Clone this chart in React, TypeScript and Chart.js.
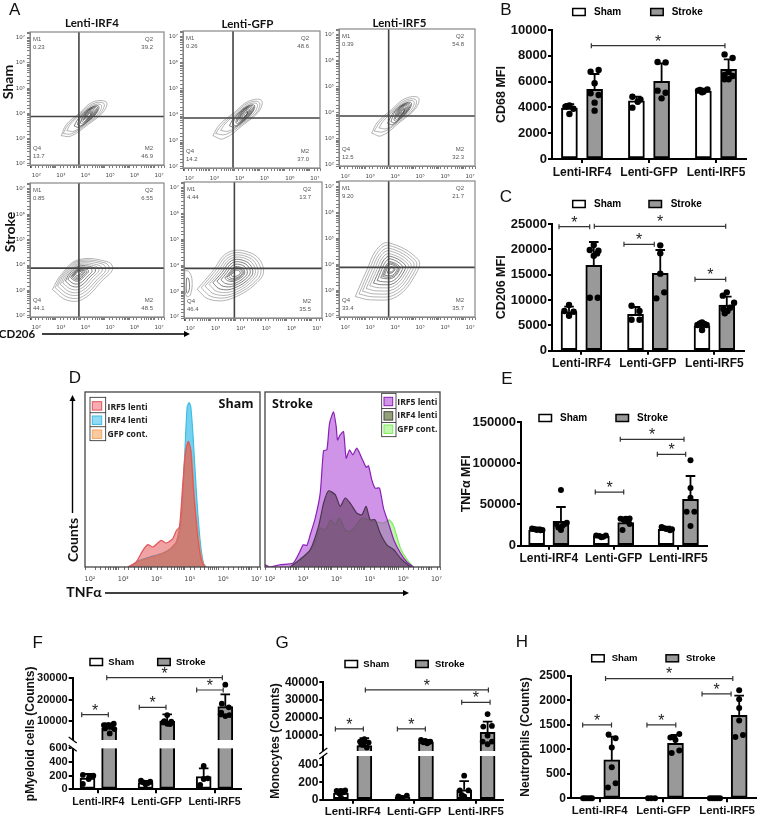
import React, { useEffect, useRef } from "react";
import { Chart, LinearScale, registerables } from "chart.js";

class BrokenScale extends LinearScale {
  static id = "broken";
  static defaults = LinearScale.defaults;
  getPixelForValue(v: number) {
    const o: any = this.options;
    let f;
    if (v <= o.lowMax) f = (v / o.lowMax) * o.fracLow;
    else if (v >= o.highMin) f = o.fracHigh + ((v - o.highMin) / (this.max - o.highMin)) * (1 - o.fracHigh);
    else f = o.fracLow + ((v - o.lowMax) / (o.highMin - o.lowMax)) * (o.fracHigh - o.fracLow);
    return this.getPixelForDecimal(f);
  }
}
Chart.register(...registerables, BrokenScale as any);

const SANS = "'Liberation Sans', Arial, sans-serif";
const CATS = ["Lenti-IRF4", "Lenti-GFP", "Lenti-IRF5"];
const SERIES = ["Sham", "Stroke"];

// ---------- Panel B ----------
const B_SHAM = [3950, 4500, 5270];
const B_STROKE = [5400, 6020, 6950];
const B_SHAM_ERR = [4250, 4830, 5450];
const B_STROKE_ERR = [6590, 7420, 7720];
const B_PTS = [
  [[-0.06, 4060], [-0.03, 4100], [0, 4150], [0.06, 3900], [0, 3490]],
  [[-0.06, 6770], [0.06, 6900], [0, 5870], [-0.06, 5090], [0.06, 4960], [0, 4370], [0, 3750]],
  [[-0.06, 4830], [0.06, 4625], [0.02, 4440], [-0.06, 3980]],
  [[-0.06, 7520], [0.06, 7490], [-0.06, 5300], [0.06, 5140], [0, 4700]],
  [[-0.08, 5300], [-0.05, 5350], [0, 5220], [0.06, 5400], [-0.02, 5180]],
  [[-0.06, 8110], [0.06, 7830], [0, 6740], [-0.06, 6510], [-0.06, 6180], [0, 6180], [0.06, 6430]],
];
const B_BRACKETS = [[1.139, 3.134, 8785]];

// ---------- Panel C ----------
const C_SHAM = [7700, 7170, 4870];
const C_STROKE = [16840, 15260, 9010];
const C_SHAM_ERR = [8700, 8620, 5590];
const C_STROKE_ERR = [21450, 19870, 10660];
const C_PTS = [
  [[0, 9010], [-0.07, 7830], [0.07, 7700], [0, 6900]],
  [[0, 20860], [-0.06, 19870], [0.07, 19740], [0, 18750], [0.05, 19200], [-0.06, 10460], [0.06, 10460]],
  [[-0.06, 8880], [0.06, 7830], [-0.06, 6120], [0.06, 6120]],
  [[0, 20790], [0, 19210], [0, 15200], [0.06, 11510], [-0.06, 10330]],
  [[0, 5590], [-0.07, 5070], [0.07, 5070], [0, 4080], [-0.03, 5400], [0.03, 5300]],
  [[0, 11510], [-0.06, 10860], [0.11, 9470], [0.05, 8490], [-0.05, 8220], [0.01, 7830], [-0.03, 7370]],
];
const C_BRACKETS = [[0.663, 1.125, 24470], [1.194, 3.17, 24540], [1.64, 2.096, 20990], [2.708, 3.17, 14080]];

// ---------- Panel E ----------
const E_SHAM = [19000, 11700, 19800];
const E_STROKE = [29500, 27900, 56200];
const E_SHAM_ERR = [22200, 13000, 23000];
const E_STROKE_ERR = [46900, 34400, 84500];
const E_PTS = [
  [[-0.07, 21000], [-0.04, 20200], [0, 19000], [0.06, 18600], [0.09, 19000]],
  [[0, 67500], [-0.07, 26300], [0.06, 26300], [0, 19000], [-0.04, 22200], [0.09, 27900], [0.02, 23800]],
  [[-0.08, 12500], [-0.03, 11700], [0, 10100], [0.03, 11000], [0.07, 12500]],
  [[-0.08, 32700], [0, 32700], [0.06, 33100], [-0.03, 31100], [0.04, 29100], [-0.05, 19000], [0.06, 26300]],
  [[-0.07, 22600], [-0.04, 21400], [0, 20200], [0.06, 18600], [0.09, 19800]],
  [[0, 103500], [0, 69900], [0, 58200], [-0.06, 41200], [0.06, 41200], [0, 23800]],
];
const E_BRACKETS = [[2.104, 3.088, 128940], [2.676, 3.114, 110750], [1.718, 2.157, 65070]];

// ---------- Panel F ----------
const F_SHAM = [165, 93, 185];
const F_STROKE = [6700, 9840, 16610];
const F_SHAM_ERR = [224, 122, 307];
const F_STROKE_ERR = [8700, 12990, 22440];
const F_PTS = [
  [[-0.08, 78], [-0.08, 210], [0.02, 151], [0.1, 200], [0.04, 180]],
  [[-0.09, 7950], [-0.01, 7950], [0.08, 8580], [-0.07, 6380], [0.01, 4020], [0.09, 6060], [0.03, 7170]],
  [[-0.08, 127], [0, 73], [0.08, 112], [-0.04, 102], [0.04, 92]],
  [[0, 12680], [-0.07, 9210], [0.07, 9530], [0, 8580], [-0.05, 9840], [0.05, 8400]],
  [[0, 341], [0.07, 161], [0, 151], [-0.06, 63]],
  [[0, 27000], [-0.06, 18030], [0.06, 16300], [-0.07, 13780], [0.07, 12680], [0, 12200], [-0.08, 12990]],
];
const F_BRACKETS = [[1.145, 3.135, 30300], [2.693, 3.15, 24490], [1.705, 2.165, 16300], [0.714, 1.172, 12830]];

// ---------- Panel G ----------
const G_SHAM = [75, 27, 114];
const G_STROKE = [4150, 6040, 11700];
const G_SHAM_ERR = [114, 42, 212];
const G_STROKE_ERR = [8300, 7300, 17700];
const G_PTS = [
  [[-0.07, 102], [0, 102], [0.07, 106], [0, 24], [-0.03, 75], [0.04, 85]],
  [[0, 7740], [-0.07, 6420], [0.07, 5850], [-0.02, 4530], [0.04, 3020], [-0.05, 4910], [0.01, 6420]],
  [[-0.07, 39], [0, 20], [0.07, 47], [-0.04, 27]],
  [[-0.08, 7360], [-0.01, 6790], [0.07, 6420], [-0.04, 6040], [0.02, 5470], [0.04, 6040], [-0.07, 6790]],
  [[0, 275], [-0.07, 106], [0.07, 106], [0, 39], [-0.04, 55]],
  [[0, 22000], [-0.07, 14900], [0.07, 15300], [0, 9800], [0.07, 6420], [-0.08, 6420], [0, 4900]],
];
const G_BRACKETS = [[1.206, 3.203, 35660], [2.77, 3.23, 28680], [1.726, 2.18, 13580], [0.72, 1.174, 13580]];

// ---------- Panel H ----------
const H_SHAM = [0, 0, 0];
const H_STROKE = [782, 1122, 1694];
const H_SHAM_ERR = [0, 0, 0];
const H_STROKE_ERR = [1258, 1293, 2095];
const H_PTS = [
  [[-0.07, 0], [-0.04, 0], [0, 0], [0.04, 0], [0.07, 0]],
  [[-0.05, 1300], [0.06, 1224], [0, 1034], [0, 633], [0.06, 306], [-0.06, 218]],
  [[-0.05, 0], [0, 0], [0.06, 0]],
  [[0.06, 1313], [-0.08, 1238], [-0.02, 1238], [0, 1190], [0.06, 973], [-0.06, 925]],
  [[-0.08, 0], [-0.04, 0], [0, 0], [0.04, 0], [0.08, 0]],
  [[0, 2204], [0, 2020], [0, 1843], [0, 1585], [0.06, 1293], [-0.06, 1252]],
];
const H_BRACKETS = [[1.092, 3.09, 2442], [2.607, 3.063, 2129], [1.742, 2.195, 1497], [0.733, 1.186, 1497]];

const BAR_PANELS: any[] = [
  { box: [494, 0, 263, 178], plot: [552, 30, 746, 159], xr: [0.552, 3.448], off: 0.188, thick: 16, yMax: 10000,
    yTicks: [0, 2000, 4000, 6000, 8000, 10000], yTitle: "CD68 MFI", tick: 13, xf: 12, tf: 12.5, lf: 10, xpad: 2,
    sham: B_SHAM, stroke: B_STROKE, shamErr: B_SHAM_ERR, strokeErr: B_STROKE_ERR, pts: B_PTS, br: B_BRACKETS,
    leg: { y: 12, box: [572.7, 650.7], text: [594, 671.7] }, r: 3.2 },
  { box: [494, 188, 263, 180], plot: [552, 224, 744, 350.7], xr: [0.558, 3.445], off: 0.186, thick: 16, yMax: 25000,
    yTicks: [0, 5000, 10000, 15000, 20000, 25000], yTitle: "CD206 MFI", tick: 13, xf: 12, tf: 12.5, lf: 10, xpad: 2,
    sham: C_SHAM, stroke: C_STROKE, shamErr: C_SHAM_ERR, strokeErr: C_STROKE_ERR, pts: C_PTS, br: C_BRACKETS,
    leg: { y: 204, box: [572.7, 649], text: [594, 670.7] }, r: 3.2 },
  { box: [459, 405, 298, 160], plot: [521, 422, 707, 545.7], xr: [0.571, 3.443], off: 0.188, thick: 16, yMax: 150000,
    yTicks: [0, 50000, 100000, 150000], yTitle: "TNF\u03b1 MFI", tick: 13, xf: 12, tf: 12.5, lf: 10, xpad: 2,
    sham: E_SHAM, stroke: E_STROKE, shamErr: E_SHAM_ERR, strokeErr: E_STROKE_ERR, pts: E_PTS, br: E_BRACKETS,
    leg: { y: 418, box: [539, 616], text: [560, 637] }, r: 3 },
  { box: [23, 650, 240, 160], plot: [72.7, 678.3, 240.7, 789.3], xr: [0.559, 3.451], off: 0.186, thick: 15, yMax: 30000,
    yTicks: [0, 200, 400, 600, 10000, 20000, 30000], yTitle: "pMyeloid cells (Counts)", tick: 11, xf: 10.7, tf: 12, lf: 9.5, xpad: 2,
    sham: F_SHAM, stroke: F_STROKE, shamErr: F_SHAM_ERR, strokeErr: F_STROKE_ERR, pts: F_PTS, br: F_BRACKETS,
    leg: { y: 662, box: [90, 157.7], text: [108.3, 176] }, r: 2.9,
    brk: { lowMax: 600, highMin: 900, fracLow: 0.369, fracHigh: 0.444 }, slash: 1 },
  { box: [268, 650, 240, 165], plot: [323.3, 682.3, 503, 799.7], xr: [0.524, 3.44], off: 0.19, thick: 15, yMax: 40000,
    yTicks: [0, 200, 400, 10000, 20000, 30000, 40000], yTitle: "Monocytes (Counts)", tick: 12, xf: 11.4, tf: 12, lf: 9.5, xpad: 1,
    sham: G_SHAM, stroke: G_STROKE, shamErr: G_SHAM_ERR, strokeErr: G_STROKE_ERR, pts: G_PTS, br: G_BRACKETS,
    leg: { y: 664, box: [345, 415.7], text: [363.3, 435] }, r: 2.9,
    brk: { lowMax: 500, highMin: 1100, fracLow: 0.372, fracHigh: 0.415 }, slash: -1 },
  { box: [518, 640, 239, 175], plot: [571, 675.7, 756.5, 798.3], xr: [0.55, 3.456], off: 0.19, thick: 16, yMax: 2500,
    yTicks: [0, 500, 1000, 1500, 2000, 2500], yTitle: "Neutrophils (Counts)", tick: 12, xf: 11.4, tf: 12, lf: 9.5, xpad: 2,
    sham: H_SHAM, stroke: H_STROKE, shamErr: H_SHAM_ERR, strokeErr: H_STROKE_ERR, pts: H_PTS, br: H_BRACKETS,
    leg: { y: 658.3, box: [591.7, 666], text: [611.7, 686] }, r: 3 },
];

function barConfig(p: any) {
  const [bx, by, bw, bh] = p.box;
  const [l, t, r, b] = p.plot;
  const font = (size: number) => ({ family: SANS, size, weight: "bold" as const });
  const points: any[] = [];
  p.pts.forEach((arr: number[][], i: number) => {
    const g = Math.floor(i / 2) + 1;
    const c = i % 2 === 0 ? g - p.off : g + p.off;
    arr.forEach(([dx, v]) => points.push({ x: c + dx, y: v }));
  });
  const overlay = {
    id: "overlay",
    afterDatasetsDraw(chart: any) {
      const { ctx, scales, chartArea } = chart;
      const X = scales.x, Y = scales.y;
      ctx.save();
      // error whiskers
      ctx.strokeStyle = "#000";
      ctx.lineWidth = 1.8;
      [[p.sham, p.shamErr, -p.off], [p.stroke, p.strokeErr, p.off]].forEach(([m, e, o]: any) => {
        m.forEach((v: number, i: number) => {
          if (e[i] <= v) return;
          const x = X.getPixelForValue(i + 1 + o);
          const y0 = Y.getPixelForValue(v), y1 = Y.getPixelForValue(e[i]);
          ctx.beginPath();
          ctx.moveTo(x, y0); ctx.lineTo(x, y1);
          ctx.moveTo(x - 4.8, y1); ctx.lineTo(x + 4.8, y1);
          ctx.stroke();
        });
      });
      // axis break
      if (p.brk) {
        const y0 = Y.getPixelForValue(p.brk.lowMax), y1 = Y.getPixelForValue(p.brk.highMin);
        ctx.fillStyle = "#fff";
        ctx.fillRect(chartArea.left - 2, y1, chartArea.right - chartArea.left + 2, y0 - y1);
        ctx.strokeStyle = "#000";
        ctx.lineWidth = 1.3;
        [y0, y1].forEach((y: number) => {
          ctx.beginPath();
          ctx.moveTo(chartArea.left - 4, y - 3 * p.slash);
          ctx.lineTo(chartArea.left + 4, y + 3 * p.slash);
          ctx.stroke();
        });
      }
      // significance brackets
      p.br.forEach(([a, c, v]: number[]) => {
        const xa = X.getPixelForValue(a), xc = X.getPixelForValue(c), y = Y.getPixelForValue(v);
        ctx.strokeStyle = "#333";
        ctx.lineWidth = 1.2;
        ctx.beginPath();
        ctx.moveTo(xa, y); ctx.lineTo(xc, y);
        ctx.moveTo(xa, y - 2.5); ctx.lineTo(xa, y + 2.5);
        ctx.moveTo(xc, y - 2.5); ctx.lineTo(xc, y + 2.5);
        ctx.stroke();
        ctx.fillStyle = "#222";
        ctx.font = `16px ${SANS}`;
        ctx.textAlign = "center";
        ctx.textBaseline = "middle";
        ctx.fillText("*", (xa + xc) / 2, y - 3.5);
      });
      // legend
      SERIES.forEach((name, i) => {
        const x = p.leg.box[i] - bx, y = p.leg.y - by;
        ctx.fillStyle = i === 0 ? "#fff" : "#999";
        ctx.strokeStyle = "#000";
        ctx.lineWidth = 1.5;
        ctx.fillRect(x, y - 3.5, 12.5, 7);
        ctx.strokeRect(x, y - 3.5, 12.5, 7);
        ctx.fillStyle = "#000";
        ctx.font = `bold ${p.lf}px ${SANS}`;
        ctx.textAlign = "left";
        ctx.textBaseline = "middle";
        ctx.fillText(name, p.leg.text[i] - bx, y);
      });
      ctx.restore();
    },
  };
  return {
    type: "bar",
    plugins: [overlay],
    data: {
      datasets: [
        { type: "scatter", label: "points", data: points, backgroundColor: "#000", borderColor: "#000", pointRadius: p.r, pointBorderWidth: 0, showLine: false, clip: false, order: 1 },
        { type: "bar", label: SERIES[0], data: p.sham.map((v: number, i: number) => ({ x: i + 1 - p.off, y: v })), backgroundColor: "#fff", borderColor: "#000", borderWidth: 2, borderSkipped: false, barThickness: p.thick, grouped: false, order: 2 },
        { type: "bar", label: SERIES[1], data: p.stroke.map((v: number, i: number) => ({ x: i + 1 + p.off, y: v })), backgroundColor: "#999", borderColor: "#000", borderWidth: 2, borderSkipped: false, barThickness: p.thick, grouped: false, order: 2 },
      ],
    },
    options: {
      responsive: false, animation: false, devicePixelRatio: 1, events: [],
      layout: { autoPadding: false, padding: { left: 0, bottom: 0, top: t - by, right: bx + bw - r } },
      plugins: { legend: { display: false }, title: { display: false }, tooltip: { enabled: false } },
      scales: {
        x: {
          type: "linear", min: p.xr[0], max: p.xr[1], offset: false,
          afterBuildTicks: (s: any) => { s.ticks = [1, 2, 3].map((value) => ({ value })); },
          afterFit: (s: any) => { s.height = by + bh - b; },
          ticks: { autoSkip: false, maxRotation: 0, minRotation: 0, padding: p.xpad, color: "#111", font: font(p.xf), callback: (v: number) => CATS[v - 1] },
          grid: { offset: false, drawOnChartArea: false, drawTicks: true, tickLength: 4, color: "#000", lineWidth: 2 },
          border: { display: true, color: "#000", width: 2 },
        },
        y: {
          type: p.brk ? "broken" : "linear", min: 0, max: p.yMax, ...(p.brk || {}),
          afterBuildTicks: (s: any) => { s.ticks = p.yTicks.map((value: number) => ({ value })); },
          afterFit: (s: any) => { s.width = l - bx; },
          ticks: { autoSkip: false, padding: 1, color: "#111", font: font(p.tick), callback: (v: number) => String(v) },
          grid: { drawOnChartArea: false, drawTicks: true, tickLength: 4, color: "#000", lineWidth: 2 },
          border: { display: true, color: "#000", width: 2 },
          title: { display: true, text: p.yTitle, color: "#111", font: font(p.tf), padding: { top: 0, bottom: 0 } },
        },
      },
    },
  };
}

// ---------- Panel A: contour levels, as [log10 CD206, log10 y] ----------
const A1_RINGS = [
  [[3.22, 3.12], [3.43, 3.56], [3.97, 4.02], [4.5, 4.45], [5.05, 4.45], [4.95, 4.08], [4.3, 3.55], [3.6, 3.1]],
  [[3.3, 3.2], [3.5, 3.55], [3.98, 3.98], [4.5, 4.38], [4.95, 4.4], [4.85, 4.05], [4.3, 3.6], [3.65, 3.2]],
  [[3.45, 3.32], [3.6, 3.58], [4.0, 3.95], [4.5, 4.32], [4.85, 4.33], [4.75, 4.02], [4.3, 3.65], [3.75, 3.3]],
  [[3.75, 3.5], [3.85, 3.7], [4.08, 3.98], [4.5, 4.27], [4.75, 4.28], [4.65, 4.0], [4.3, 3.68], [3.95, 3.45]],
  [[3.88, 3.56], [3.95, 3.75], [4.13, 3.99], [4.49, 4.25], [4.7, 4.24], [4.62, 3.99], [4.31, 3.7], [4.02, 3.51]],
  [[4.0, 3.62], [4.05, 3.8], [4.18, 4.0], [4.48, 4.22], [4.65, 4.2], [4.58, 3.98], [4.32, 3.72], [4.1, 3.58]],
  [[4.05, 3.7], [4.1, 3.85], [4.22, 4.02], [4.46, 4.2], [4.6, 4.16], [4.54, 3.96], [4.32, 3.75], [4.13, 3.64]],
  [[4.12, 3.72], [4.15, 3.85], [4.25, 4.02], [4.45, 4.18], [4.55, 4.12], [4.5, 3.95], [4.32, 3.78], [4.18, 3.68]],
  [[4.16, 3.77], [4.18, 3.88], [4.28, 4.02], [4.44, 4.14], [4.5, 4.08], [4.46, 3.93], [4.32, 3.8], [4.21, 3.73]],
  [[4.2, 3.8], [4.22, 3.9], [4.3, 4.0], [4.42, 4.1], [4.47, 4.05], [4.42, 3.92], [4.33, 3.82], [4.25, 3.78]],
  [[4.24, 3.84], [4.26, 3.92], [4.33, 3.99], [4.41, 4.06], [4.44, 4.01], [4.4, 3.91], [4.33, 3.84], [4.28, 3.81]],
  [[4.27, 3.86], [4.3, 3.93], [4.35, 3.98], [4.4, 4.02], [4.42, 3.98], [4.38, 3.9], [4.33, 3.86], [4.3, 3.84]],
];
const A2_RINGS = [
  [[3.14, 3.2], [3.4, 3.62], [4.0, 4.1], [4.55, 4.52], [5.07, 4.56], [4.98, 4.15], [4.35, 3.62], [3.55, 3.08]],
  [[3.25, 3.28], [3.5, 3.62], [4.02, 4.06], [4.55, 4.46], [4.98, 4.48], [4.9, 4.12], [4.35, 3.67], [3.65, 3.25]],
  [[3.45, 3.4], [3.62, 3.65], [4.05, 4.02], [4.55, 4.4], [4.9, 4.42], [4.8, 4.1], [4.35, 3.72], [3.78, 3.38]],
  [[3.8, 3.58], [3.9, 3.78], [4.13, 4.05], [4.55, 4.35], [4.8, 4.36], [4.7, 4.08], [4.36, 3.75], [4.0, 3.53]],
  [[3.93, 3.64], [4.0, 3.83], [4.18, 4.07], [4.54, 4.33], [4.75, 4.32], [4.67, 4.07], [4.36, 3.78], [4.07, 3.59]],
  [[4.05, 3.7], [4.1, 3.88], [4.23, 4.08], [4.53, 4.3], [4.7, 4.28], [4.63, 4.06], [4.37, 3.8], [4.15, 3.66]],
  [[4.11, 3.75], [4.15, 3.91], [4.27, 4.09], [4.52, 4.28], [4.65, 4.24], [4.59, 4.05], [4.37, 3.83], [4.19, 3.71]],
  [[4.17, 3.8], [4.2, 3.93], [4.3, 4.1], [4.5, 4.26], [4.6, 4.2], [4.55, 4.03], [4.37, 3.86], [4.23, 3.76]],
  [[4.21, 3.84], [4.24, 3.96], [4.33, 4.09], [4.49, 4.22], [4.56, 4.17], [4.51, 4.02], [4.38, 3.88], [4.27, 3.81]],
  [[4.25, 3.88], [4.27, 3.98], [4.35, 4.08], [4.47, 4.18], [4.52, 4.13], [4.47, 4.0], [4.38, 3.9], [4.3, 3.86]],
  [[4.31, 3.93], [4.33, 4.0], [4.4, 4.08], [4.48, 4.14], [4.52, 4.1], [4.47, 4.0], [4.4, 3.93], [4.35, 3.91]],
  [[4.37, 3.98], [4.4, 4.03], [4.45, 4.08], [4.5, 4.1], [4.52, 4.06], [4.48, 4.0], [4.43, 3.96], [4.4, 3.95]],
];
const A3_RINGS = [
  [[3.26, 3.22], [3.5, 3.65], [4.05, 4.12], [4.6, 4.55], [5.13, 4.58], [5.03, 4.18], [4.4, 3.65], [3.65, 3.12]],
  [[3.36, 3.3], [3.6, 3.66], [4.07, 4.08], [4.6, 4.48], [5.03, 4.5], [4.95, 4.15], [4.4, 3.7], [3.75, 3.28]],
  [[3.55, 3.42], [3.72, 3.68], [4.1, 4.05], [4.6, 4.42], [4.95, 4.44], [4.85, 4.12], [4.4, 3.75], [3.88, 3.4]],
  [[3.9, 3.6], [4.0, 3.8], [4.18, 4.08], [4.6, 4.37], [4.85, 4.38], [4.75, 4.1], [4.41, 3.78], [4.1, 3.55]],
  [[4.03, 3.66], [4.1, 3.85], [4.23, 4.09], [4.59, 4.35], [4.8, 4.34], [4.71, 4.09], [4.42, 3.8], [4.18, 3.62]],
  [[4.15, 3.72], [4.2, 3.9], [4.28, 4.1], [4.58, 4.32], [4.75, 4.3], [4.68, 4.08], [4.42, 3.82], [4.25, 3.68]],
  [[4.21, 3.77], [4.25, 3.92], [4.32, 4.11], [4.56, 4.3], [4.7, 4.26], [4.64, 4.06], [4.42, 3.85], [4.29, 3.73]],
  [[4.27, 3.82], [4.3, 3.95], [4.36, 4.12], [4.55, 4.28], [4.65, 4.22], [4.6, 4.05], [4.42, 3.88], [4.33, 3.78]],
  [[4.31, 3.86], [4.34, 3.98], [4.39, 4.11], [4.54, 4.24], [4.61, 4.19], [4.56, 4.04], [4.43, 3.9], [4.36, 3.83]],
  [[4.35, 3.9], [4.37, 4.0], [4.42, 4.1], [4.52, 4.2], [4.57, 4.15], [4.52, 4.02], [4.43, 3.92], [4.38, 3.88]],
  [[4.39, 3.94], [4.42, 4.02], [4.46, 4.1], [4.53, 4.16], [4.57, 4.12], [4.53, 4.02], [4.46, 3.95], [4.42, 3.92]],
  [[4.43, 3.98], [4.46, 4.04], [4.5, 4.1], [4.55, 4.12], [4.57, 4.08], [4.53, 4.02], [4.48, 3.97], [4.45, 3.96]],
];
const A4_RINGS = [
  [[2.86, 3.04], [3.45, 2.62], [4.12, 2.67], [4.93, 3.43], [5.31, 3.83], [5.13, 4.12], [3.9, 4.2], [3.2, 3.6]],
  [[2.97, 3.11], [3.5, 2.73], [4.1, 2.77], [4.83, 3.46], [5.17, 3.82], [5.01, 4.08], [3.9, 4.15], [3.27, 3.61]],
  [[3.07, 3.17], [3.54, 2.84], [4.08, 2.88], [4.73, 3.48], [5.03, 3.8], [4.89, 4.04], [3.9, 4.1], [3.34, 3.62]],
  [[3.18, 3.24], [3.59, 2.94], [4.06, 2.98], [4.62, 3.51], [4.89, 3.79], [4.76, 3.99], [3.9, 4.05], [3.41, 3.63]],
  [[3.28, 3.3], [3.63, 3.05], [4.04, 3.08], [4.52, 3.54], [4.75, 3.78], [4.64, 3.95], [3.9, 4.0], [3.48, 3.64]],
  [[3.39, 3.37], [3.68, 3.16], [4.02, 3.19], [4.42, 3.57], [4.61, 3.76], [4.52, 3.91], [3.9, 3.95], [3.55, 3.65]],
  [[3.49, 3.44], [3.73, 3.27], [3.99, 3.29], [4.32, 3.59], [4.47, 3.75], [4.4, 3.87], [3.91, 3.9], [3.63, 3.66]],
  [[3.6, 3.5], [3.77, 3.38], [3.97, 3.39], [4.22, 3.62], [4.33, 3.74], [4.28, 3.83], [3.91, 3.85], [3.7, 3.67]],
  [[3.65, 3.53], [3.8, 3.43], [3.96, 3.44], [4.16, 3.63], [4.26, 3.73], [4.21, 3.8], [3.91, 3.82], [3.74, 3.67]],
  [[3.7, 3.57], [3.82, 3.48], [3.95, 3.49], [4.11, 3.65], [4.19, 3.73], [4.15, 3.78], [3.91, 3.8], [3.77, 3.68]],
  [[3.75, 3.6], [3.84, 3.53], [3.94, 3.55], [4.06, 3.66], [4.12, 3.72], [4.09, 3.76], [3.91, 3.78], [3.8, 3.68]],
  [[3.8, 3.63], [3.86, 3.59], [3.93, 3.6], [4.01, 3.67], [4.05, 3.71], [4.03, 3.74], [3.91, 3.75], [3.84, 3.69]],
];
const A5_RINGS = [
  [[2.47, 3.07], [2.95, 2.68], [3.85, 2.72], [4.96, 3.46], [5.06, 3.98], [4.6, 4.47], [3.7, 4.5], [3.04, 3.72]],
  [[2.63, 3.13], [3.06, 2.78], [3.87, 2.82], [4.87, 3.48], [4.96, 3.95], [4.54, 4.39], [3.73, 4.42], [3.14, 3.72]],
  [[2.78, 3.19], [3.17, 2.88], [3.89, 2.91], [4.77, 3.51], [4.85, 3.92], [4.49, 4.31], [3.77, 4.34], [3.24, 3.71]],
  [[2.94, 3.26], [3.27, 2.98], [3.9, 3.01], [4.68, 3.53], [4.75, 3.89], [4.43, 4.24], [3.8, 4.26], [3.34, 3.71]],
  [[1.98, 3.8], [2.15, 3.75], [2.27, 3.4], [2.2, 2.85], [2.05, 2.8], [1.98, 3.2]],
  [[3.09, 3.32], [3.38, 3.08], [3.92, 3.11], [4.59, 3.55], [4.65, 3.86], [4.37, 4.16], [3.83, 4.18], [3.44, 3.71]],
  [[3.25, 3.38], [3.49, 3.19], [3.94, 3.21], [4.5, 3.58], [4.55, 3.84], [4.32, 4.08], [3.87, 4.1], [3.54, 3.71]],
  [[3.41, 3.44], [3.6, 3.29], [3.96, 3.3], [4.4, 3.6], [4.44, 3.81], [4.26, 4.0], [3.9, 4.01], [3.63, 3.7]],
  [[3.56, 3.5], [3.71, 3.39], [3.98, 3.4], [4.31, 3.62], [4.34, 3.78], [4.2, 3.92], [3.93, 3.93], [3.73, 3.7]],
  [[3.64, 3.53], [3.76, 3.44], [3.98, 3.45], [4.26, 3.63], [4.29, 3.76], [4.17, 3.88], [3.94, 3.89], [3.78, 3.7]],
  [[3.72, 3.57], [3.81, 3.49], [3.99, 3.5], [4.22, 3.64], [4.24, 3.75], [4.14, 3.85], [3.96, 3.85], [3.83, 3.7]],
  [[3.8, 3.62], [3.88, 3.56], [4.0, 3.57], [4.16, 3.66], [4.17, 3.73], [4.1, 3.8], [3.98, 3.8], [3.88, 3.7]],
  [[2.05, 3.5], [2.12, 3.5], [2.17, 3.2], [2.12, 2.95], [2.05, 2.95]],
];
const A6_RINGS = [
  [[2.6, 2.75], [3.25, 2.62], [4.26, 2.75], [5.05, 3.66], [5.12, 4.18], [3.93, 4.83], [3.46, 4.57], [3.07, 3.79]],
  [[2.75, 2.85], [3.33, 2.74], [4.24, 2.85], [4.95, 3.67], [5.01, 4.14], [3.94, 4.73], [3.52, 4.49], [3.17, 3.79]],
  [[2.89, 2.96], [3.41, 2.85], [4.22, 2.96], [4.85, 3.69], [4.91, 4.1], [3.96, 4.62], [3.58, 4.41], [3.27, 3.79]],
  [[3.04, 3.06], [3.49, 2.97], [4.2, 3.06], [4.75, 3.7], [4.8, 4.06], [3.97, 4.52], [3.64, 4.34], [3.37, 3.79]],
  [[3.18, 3.17], [3.57, 3.09], [4.18, 3.17], [4.65, 3.71], [4.7, 4.02], [3.98, 4.41], [3.7, 4.26], [3.47, 3.79]],
  [[3.33, 3.27], [3.66, 3.21], [4.16, 3.27], [4.56, 3.73], [4.59, 3.99], [4.0, 4.31], [3.76, 4.18], [3.57, 3.79]],
  [[3.48, 3.37], [3.74, 3.32], [4.14, 3.37], [4.46, 3.74], [4.48, 3.95], [4.01, 4.21], [3.82, 4.1], [3.66, 3.79]],
  [[3.62, 3.48], [3.82, 3.44], [4.12, 3.48], [4.36, 3.75], [4.38, 3.91], [4.02, 4.1], [3.88, 4.02], [3.76, 3.79]],
  [[3.7, 3.53], [3.86, 3.5], [4.11, 3.53], [4.31, 3.75], [4.32, 3.89], [4.03, 4.05], [3.91, 3.98], [3.81, 3.79]],
  [[3.77, 3.58], [3.9, 3.56], [4.1, 3.58], [4.26, 3.76], [4.27, 3.87], [4.03, 4.0], [3.94, 3.95], [3.86, 3.79]],
  [[3.88, 3.67], [3.96, 3.65], [4.08, 3.67], [4.18, 3.77], [4.19, 3.84], [4.04, 3.91], [3.99, 3.88], [3.94, 3.79]],
  [[3.93, 3.71], [3.99, 3.7], [4.07, 3.71], [4.14, 3.78], [4.15, 3.82], [4.05, 3.87], [4.01, 3.85], [3.97, 3.79]],
];
const QUAD_NAMES = ["M1", "Q2", "Q4", "M2"];
const A1_QUAD = ["0.23", "39.2", "13.7", "46.9"];
const A2_QUAD = ["0.26", "48.6", "14.2", "37.0"];
const A3_QUAD = ["0.39", "54.8", "12.5", "32.3"];
const A4_QUAD = ["0.85", "6.55", "44.1", "48.5"];
const A5_QUAD = ["4.44", "13.7", "46.4", "35.5"];
const A6_QUAD = ["9.20", "21.7", "33.4", "35.7"];
const GATE_X = 3.94;
const GATE_Y = 3.88;
const SUP: Record<string, string> = { "2": "\u00b2", "3": "\u00b3", "4": "\u2074", "5": "\u2075", "6": "\u2076", "7": "\u2077" };
const decadeLabel = (v: number) => {
  const e = Math.log10(v);
  return Math.abs(e - Math.round(e)) < 1e-6 ? "10" + (SUP[String(Math.round(e))] || "") : "";
};

const CONTOUR_PANELS: any[] = [
  { plot: [30, 32, 164, 165], rings: A1_RINGS, quad: A1_QUAD, outer: 3 },
  { plot: [183, 31, 320, 168], rings: A2_RINGS, quad: A2_QUAD, outer: 3 },
  { plot: [339, 29, 475, 166], rings: A3_RINGS, quad: A3_QUAD, outer: 3 },
  { plot: [30, 183, 164, 317], rings: A4_RINGS, quad: A4_QUAD, outer: 5 },
  { plot: [184, 182, 322, 318], rings: A5_RINGS, quad: A5_QUAD, outer: 5 },
  { plot: [339, 181, 475, 317], rings: A6_RINGS, quad: A6_QUAD, outer: 5 },
];

function contourConfig(p: any) {
  const tickFont = { family: "'DejaVu Sans', sans-serif", size: 5.5 };
  const overlay = {
    id: "overlay",
    afterDatasetsDraw(chart: any) {
      const { ctx, scales, chartArea: a } = chart;
      ctx.save();
      ctx.strokeStyle = "#444";
      ctx.lineWidth = 1.6;
      const gx = scales.x.getPixelForValue(10 ** GATE_X), gy = scales.y.getPixelForValue(10 ** GATE_Y);
      ctx.beginPath();
      ctx.moveTo(gx, a.top); ctx.lineTo(gx, a.bottom);
      ctx.moveTo(a.left, gy); ctx.lineTo(a.right, gy);
      ctx.stroke();
      ctx.strokeStyle = "#888";
      ctx.lineWidth = 1.2;
      ctx.strokeRect(a.left, a.top, a.right - a.left, a.bottom - a.top);
      ctx.fillStyle = "#555";
      ctx.font = `6px ${SANS}`;
      ctx.textBaseline = "middle";
      p.quad.forEach((val: string, i: number) => {
        const right = i % 2 === 1, low = i >= 2;
        ctx.textAlign = right ? "right" : "left";
        const x = right ? a.right - 11 : a.left + 3;
        const y1 = low ? a.bottom - 16.7 : a.top + 7.3;
        ctx.fillText(QUAD_NAMES[i], x, y1);
        ctx.fillText(val, x, y1 + 8.5);
      });
      ctx.restore();
    },
  };
  const axisCommon = {
    type: "logarithmic",
    grid: { drawOnChartArea: false, drawTicks: true, tickLength: 3, color: "#444", lineWidth: 0.7 },
    border: { display: true, color: "#888", width: 1 },
  };
  return {
    type: "scatter",
    plugins: [overlay],
    data: {
      datasets: p.rings.map((ring: number[][], i: number) => ({
        data: [...ring, ring[0]].map(([x, y]) => ({ x: 10 ** x, y: 10 ** y })),
        showLine: true, pointRadius: 0, tension: 0.4,
        borderColor: i < p.outer ? "#808080" : "#4a4a4a",
        borderWidth: i < p.outer ? 0.6 : 0.7,
      })),
    },
    options: {
      responsive: false, animation: false, devicePixelRatio: 1, events: [],
      layout: { autoPadding: false, padding: { left: 0, bottom: 0, top: 6, right: 6 } },
      plugins: { legend: { display: false }, title: { display: false }, tooltip: { enabled: false } },
      scales: {
        x: {
          ...axisCommon, min: 10 ** 1.95, max: 10 ** 7.4,
          afterFit: (s: any) => { s.height = 20; },
          ticks: { autoSkip: false, maxRotation: 0, minRotation: 0, padding: 4, labelOffset: 5, color: "#444", font: tickFont, callback: decadeLabel },
        },
        y: {
          ...axisCommon, min: 10 ** 1.96, max: 10 ** 7.22,
          afterFit: (s: any) => { s.width = 24; },
          ticks: { autoSkip: false, padding: 2, color: "#444", font: tickFont, callback: decadeLabel },
        },
      },
    },
  };
}

// ---------- Panel D: histograms, as [log10 TNF-alpha, % of frame height] ----------
const SHAM_IRF5 = [[3.29, 0], [3.54, 2.9], [3.74, 9.5], [3.89, 12.8], [4.04, 11.4], [4.29, 15.2], [4.44, 13.7], [4.64, 16.2], [4.74, 20.6], [4.84, 22.9], [4.94, 47.6], [5.03, 66.7], [5.11, 71.8], [5.18, 66.7], [5.27, 41.9], [5.4, 15.2], [5.5, 3.8], [5.6, 0]];
const SHAM_GFP = [[3.34, 0], [3.64, 3.4], [4.04, 5.7], [4.44, 8.6], [4.74, 14.3], [4.89, 28.6], [4.99, 61], [5.09, 71.4], [5.2, 64.8], [5.3, 38.1], [5.45, 11.4], [5.57, 1], [5.65, 0]];
const SHAM_IRF4 = [[3.34, 0], [3.64, 3.8], [3.94, 5.7], [4.34, 8], [4.74, 13], [4.89, 24.8], [4.99, 61], [5.07, 91.4], [5.13, 93.9], [5.18, 91.4], [5.25, 74.3], [5.35, 41.9], [5.47, 13.3], [5.57, 1.5], [5.65, 0]];
const STROKE_IRF4 = [[2.75, 0], [3.05, 4.2], [3.36, 9.9], [3.61, 23.2], [3.76, 36.5], [3.91, 43.5], [4.11, 41.3], [4.26, 34.6], [4.41, 39.4], [4.56, 36.5], [4.76, 30.8], [4.91, 29.8], [5.04, 34.6], [5.16, 27], [5.31, 27], [5.46, 19.4], [5.66, 12.7], [5.87, 9.9], [6.07, 5.1], [6.32, 0.8], [6.42, 0]];
const STROKE_IRF5 = [[2, 1.3], [2.15, 0], [2.45, 1.3], [2.85, 2.3], [3.05, 8.9], [3.15, 12.7], [3.26, 12.4], [3.36, 18.4], [3.51, 27.9], [3.66, 42.2], [3.76, 66.5], [3.86, 66.9], [3.94, 82.1], [4.06, 88.6], [4.14, 80.2], [4.18, 72.6], [4.26, 75.5], [4.36, 77.4], [4.44, 62.2], [4.54, 66.9], [4.64, 64.1], [4.76, 67.9], [4.91, 62.2], [5.04, 57], [5.11, 57.8], [5.21, 49.8], [5.31, 45.1], [5.44, 45.1], [5.56, 33.7], [5.71, 25.1], [5.87, 15.6], [6.07, 8], [6.27, 2.7], [6.47, 0]];
const STROKE_GFP = [[2.75, 0], [3.15, 6.1], [3.46, 11.8], [3.66, 22.2], [3.81, 21.3], [3.98, 27], [4.11, 24.1], [4.24, 27.9], [4.41, 21.3], [4.56, 20.3], [4.71, 23.2], [4.91, 27.9], [5.11, 27], [5.31, 26], [5.56, 25.1], [5.74, 27], [5.87, 23.2], [6.07, 10.8], [6.27, 4.2], [6.45, 0]];

const HIST_PANELS: any[] = [
  { box: [65, 388, 200, 200], plot: [85, 392, 260, 567], title: "Sham", titleX: 236,
    series: [
      { label: "IRF5 lenti", data: SHAM_IRF5, line: "#e2565c", fill: "rgba(228,72,74,0.5)", swatch: "rgba(240,90,100,0.5)" },
      { label: "IRF4 lenti", data: SHAM_IRF4, line: "#3fbde3", fill: "rgba(70,195,235,0.75)", swatch: "rgba(70,195,235,0.6)", z: 2 },
      { label: "GFP cont.", data: SHAM_GFP, line: "#c79a78", fill: "rgba(245,150,80,0.5)", swatch: "rgba(245,165,95,0.6)", swatchLine: "#f5a562", z: 1 },
    ],
    legFrame: [90, 397.3, 105.7, 440.7], legSep: [412.7, 426.7], legX: [92.3, 101.7], legY: [401.7, 416, 430], textX: 107.6, textY: [407.3, 420.7, 435] },
  { box: [245, 388, 202, 200], plot: [265, 392, 440, 567], title: "Stroke", titleX: 292.5,
    series: [
      { label: "IRF5 lenti", data: STROKE_IRF5, line: "#8a22b5", fill: "rgba(168,58,213,0.55)", swatch: "rgba(168,58,213,0.55)", z: 1 },
      { label: "IRF4 lenti", data: STROKE_IRF4, line: "#4a3550", fill: "rgba(85,50,80,0.55)", swatch: "rgba(90,110,55,0.65)", swatchLine: "#4a4a3a", z: 0 },
      { label: "GFP cont.", data: STROKE_GFP, line: "#7ceb5a", fill: "rgba(130,240,90,0.5)", swatch: "rgba(130,240,90,0.5)", z: 2 },
    ],
    legFrame: [381.7, 393.3, 396, 436.7], legSep: [408.5, 422.5], legX: [384, 392.7], legY: [397.3, 411.7, 425], textX: 397.3, textY: [402.3, 416, 430] },
];

function histConfig(p: any) {
  const [bx, by, bw, bh] = p.box;
  const [l, t, r, b] = p.plot;
  const overlay = {
    id: "overlay",
    afterDatasetsDraw(chart: any) {
      const { ctx, chartArea: a } = chart;
      ctx.save();
      ctx.strokeStyle = "#444";
      ctx.lineWidth = 1.3;
      ctx.strokeRect(a.left, a.top, a.right - a.left, a.bottom - a.top);
      ctx.fillStyle = "#111";
      ctx.font = "bold 12.5px 'Open Sans', sans-serif";
      ctx.textAlign = "center";
      ctx.textBaseline = "middle";
      ctx.fillText(p.title, p.titleX - bx, 404 - by);
      const [fl, ft, fr, fb] = p.legFrame;
      ctx.strokeStyle = "#222";
      ctx.lineWidth = 0.8;
      ctx.strokeRect(fl - bx, ft - by, fr - fl, fb - ft);
      p.legSep.forEach((y: number) => {
        ctx.beginPath();
        ctx.moveTo(fl - bx, y - by); ctx.lineTo(fr - bx, y - by);
        ctx.stroke();
      });
      p.series.forEach((s: any, i: number) => {
        const x = p.legX[0] - bx, y = p.legY[i] - by, w = p.legX[1] - p.legX[0];
        ctx.fillStyle = "#fff";
        ctx.fillRect(x, y, w, 8.4);
        ctx.fillStyle = s.swatch;
        ctx.strokeStyle = s.swatchLine || s.line;
        ctx.lineWidth = 1;
        ctx.fillRect(x, y, w, 8.4);
        ctx.strokeRect(x, y, w, 8.4);
        ctx.fillStyle = "#222";
        ctx.font = "bold 8.6px 'Open Sans', sans-serif";
        ctx.textAlign = "left";
        ctx.textBaseline = "middle";
        ctx.fillText(s.label, p.textX - bx, p.textY[i] - by);
      });
      ctx.restore();
    },
  };
  return {
    type: "line",
    plugins: [overlay],
    data: {
      datasets: p.series.map((s: any, i: number) => ({
        label: s.label,
        data: s.data.map(([x, y]: number[]) => ({ x: 10 ** x, y })),
        borderColor: s.line, backgroundColor: s.fill, fill: "origin", borderWidth: 1.2, pointRadius: 0, tension: 0.2,
        order: s.z ?? i,
      })),
    },
    options: {
      responsive: false, animation: false, devicePixelRatio: 1, events: [],
      layout: { autoPadding: false, padding: { left: 0, bottom: 0, top: t - by, right: bx + bw - r } },
      plugins: { legend: { display: false }, title: { display: false }, tooltip: { enabled: false } },
      scales: {
        x: {
          type: "logarithmic", min: 100, max: 10 ** 7.26,
          afterFit: (s: any) => { s.height = by + bh - b; },
          ticks: { autoSkip: false, maxRotation: 0, minRotation: 0, padding: 5, labelOffset: 5, color: "#444", font: { family: "'DejaVu Sans', sans-serif", size: 6.5 }, callback: decadeLabel },
          grid: { drawOnChartArea: false, drawTicks: true, tickLength: 3, color: "#333", lineWidth: 0.7 },
          border: { display: false },
        },
        y: {
          type: "linear", min: 0, max: 100,
          afterFit: (s: any) => { s.width = l - bx; },
          ticks: { display: false },
          grid: { display: false },
          border: { display: false },
        },
      },
    },
  };
}

// ---------- Free text ----------
const LETTER = `17px ${SANS}`;
const CALI = "bold 11.5px Lato, sans-serif";
const LABELS: any[] = [
  ["A", 14.7, 9, LETTER, 0], ["B", 506, 9.3, LETTER, 0], ["C", 506, 195.7, LETTER, 0], ["D", 75, 376.7, LETTER, 0],
  ["E", 507, 378, LETTER, 0], ["F", 37.7, 641.7, LETTER, 0], ["G", 282, 641.7, LETTER, 0], ["H", 522, 641, LETTER, 0],
  ["Lenti-IRF4", 92, 23, CALI, 0], ["Lenti-GFP", 247.5, 24, CALI, 0], ["Lenti-IRF5", 399.5, 23, CALI, 0],
  ["Sham", 7.5, 81.7, "bold 14px Lato, sans-serif", -90], ["Stroke", 10, 231.7, "bold 14px Lato, sans-serif", -90],
  ["CD206", 17, 334, "bold 11.5px Lato, sans-serif", 0],
  ["Counts", 73, 540, "bold 14px Lato, sans-serif", -90], ["TNF\u03b1", 84, 591.7, "bold 14px Lato, sans-serif", 0],
];

function ChartCanvas({ box, config }: { box: number[]; config: any }) {
  const ref = useRef<HTMLCanvasElement>(null);
  useEffect(() => {
    const chart = new Chart(ref.current as any, config);
    return () => chart.destroy();
  }, []);
  return <canvas ref={ref} width={box[2]} height={box[3]} style={{ position: "absolute", left: box[0], top: box[1], width: box[2], height: box[3] }} />;
}

export default function App() {
  return (
    <div style={{ position: "absolute", left: 0, top: 0, width: 757, height: 815, background: "#fff", overflow: "hidden" }}>
      {CONTOUR_PANELS.map((p, i) => {
        const [l, t, r, b] = p.plot;
        return <ChartCanvas key={"a" + i} box={[l - 24, t - 6, r - l + 30, b - t + 26]} config={contourConfig(p)} />;
      })}
      {HIST_PANELS.map((p, i) => <ChartCanvas key={"d" + i} box={p.box} config={histConfig(p)} />)}
      {BAR_PANELS.map((p, i) => <ChartCanvas key={"b" + i} box={p.box} config={barConfig(p)} />)}
      <svg width={757} height={815} style={{ position: "absolute", left: 0, top: 0, pointerEvents: "none" }}>
        <g stroke="#000" strokeWidth={1.4} fill="#000">
          <line x1={42} y1={334} x2={185} y2={334} />
          <polygon points="190,334 184,331 184,337" stroke="none" />
          <line x1={72.5} y1={513} x2={72.5} y2={400} />
          <polygon points="72.5,395 69.5,401 75.5,401" stroke="none" />
          <line x1={105} y1={593} x2={404} y2={593} />
          <polygon points="409,593 403,590 403,596" stroke="none" />
        </g>
      </svg>
      {LABELS.map(([text, x, y, font, rot]) => (
        <div key={text + x} style={{ position: "absolute", left: x, top: y, font, color: "#111", lineHeight: 1, whiteSpace: "nowrap", transform: `translate(-50%,-50%) rotate(${rot}deg)` }}>{text}</div>
      ))}
    </div>
  );
}
